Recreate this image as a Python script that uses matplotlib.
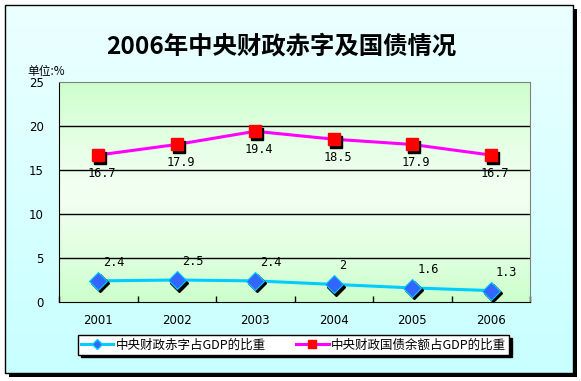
import numpy as np
import matplotlib
matplotlib.use("Agg")
import matplotlib.pyplot as plt
from matplotlib.patches import Rectangle
from matplotlib.lines import Line2D
import matplotlib.transforms as mtransforms

years = ["2001", "2002", "2003", "2004", "2005", "2006"]
deficit = [2.4, 2.5, 2.4, 2.0, 1.6, 1.3]
deficit_labels = ["2.4", "2.5", "2.4", "2", "1.6", "1.3"]
debt = [16.7, 17.9, 19.4, 18.5, 17.9, 16.7]
debt_labels = ["16.7", "17.9", "19.4", "18.5", "17.9", "16.7"]
yticks = [0, 5, 10, 15, 20, 25]
title = "2006年中央财政赤字及国债情况"
unit = "单位:%"
name_deficit = "中央财政赤字占GDP的比重"
name_debt = "中央财政国债余额占GDP的比重"

plt.rcParams['font.family'] = ['Noto Sans CJK SC', 'DejaVu Sans']

W, H = 581, 381
fig = plt.figure(figsize=(W / 100, H / 100), dpi=100)
fig.patch.set_facecolor('white')

def fx(px):
    return px / W

def fy(py):
    return 1 - py / H

# outer frame background with gradient
bg = fig.add_axes([fx(5), fy(373), fx(568), (373 - 5) / H])
bg.set_axis_off()
grad = np.linspace(0, 1, 256).reshape(-1, 1)
c_top = np.array([0xEC, 0xFF, 0xFF]) / 255
c_bot = np.array([0xC8, 0xFF, 0xFF]) / 255
img = c_top[None, None, :] * (1 - grad[:, :, None]) + c_bot[None, None, :] * grad[:, :, None]
bg.imshow(img, aspect='auto', extent=[0, 1, 0, 1])
bg.set_xlim(0, 1)
bg.set_ylim(0, 1)
# shadow of frame
fig.patches.append(Rectangle((fx(9), fy(377)), fx(568), 4 / H, transform=fig.transFigure,
                             facecolor='black', edgecolor='none', zorder=0))
fig.patches.append(Rectangle((fx(573), fy(377)), 4 / W, (377 - 9) / H, transform=fig.transFigure,
                             facecolor='black', edgecolor='none', zorder=0))
fig.patches.append(Rectangle((fx(5), fy(373)), fx(568), (373 - 5) / H, transform=fig.transFigure,
                             facecolor='none', edgecolor='black', linewidth=1, zorder=5))

# plot area
L, R, T, B = 59, 530, 82, 302
ax = fig.add_axes([fx(L), fy(B), (R - L) / W, (B - T) / H])
ax.set_xlim(0.5, 6.5)
ax.set_ylim(0, 25)

# plot background gradient (green edges, lighter center)
g = np.linspace(-1, 1, 256)
t = np.abs(g) ** 1.3
c_edge = np.array([0xCC, 0xFF, 0xCC]) / 255
c_mid = np.array([0xF2, 0xFF, 0xF2]) / 255
pimg = c_mid[None, :] * (1 - t[:, None]) + c_edge[None, :] * t[:, None]
ax.imshow(pimg[:, None, :], aspect='auto', extent=[0.5, 6.5, 0, 25], zorder=0)

for yv in yticks[1:-1]:
    ax.axhline(yv, color='black', linewidth=1, zorder=1)

x = np.arange(1, len(years) + 1)

# lines
ax.plot(x, deficit, color='#00CCFF', linewidth=2.2, zorder=3, solid_capstyle='butt')
ax.plot(x, debt, color='#FF00FF', linewidth=2.2, zorder=3, solid_capstyle='butt')

# marker shadows
sh = mtransforms.offset_copy(ax.transData, fig=fig, x=2, y=-2.5, units='dots')
ax.plot(x, deficit, linestyle='none', marker='D', markersize=9, color='black', transform=sh, zorder=4)
ax.plot(x, debt, linestyle='none', marker='s', markersize=8, color='black', transform=sh, zorder=4)
# markers
ax.plot(x, deficit, linestyle='none', marker='D', markersize=9, markerfacecolor='#3366FF',
        markeredgecolor='#00CCFF', markeredgewidth=0.8, zorder=5)
ax.plot(x, debt, linestyle='none', marker='s', markersize=8, markerfacecolor='#FF0000',
        markeredgecolor='#FF0000', zorder=5)

# data labels
for xi, v, lab in zip(x, deficit, deficit_labels):
    ax.annotate(lab, (xi, v), xytext=(5, 12), textcoords='offset pixels', ha='left', va='bottom',
                fontsize=8.6, family='DejaVu Sans Mono', zorder=6)
for xi, v, lab in zip(x, debt, debt_labels):
    ax.annotate(lab, (xi, v), xytext=(4, -12), textcoords='offset pixels', ha='center', va='top',
                fontsize=8.6, family='DejaVu Sans Mono', zorder=6)

# axes styling
ax.set_yticks(yticks)
ax.set_yticklabels([str(v) for v in yticks], fontsize=8.5, family='DejaVu Sans')
ax.tick_params(axis='y', length=0, pad=11)
ax.set_xticks(np.arange(0.5, 7.0, 1.0))
ax.set_xticklabels([])
ax.tick_params(axis='x', direction='in', length=4, width=1, color='black')
for xi, yr in zip(x, years):
    ax.text(xi, -0.085, yr, transform=ax.get_xaxis_transform(), ha='center', va='center',
            fontsize=8.5, family='DejaVu Sans')
ax.spines['left'].set_color('black')
ax.spines['bottom'].set_color('black')
ax.spines['top'].set_color('#808080')
ax.spines['right'].set_color('#808080')

# titles
fig.text(fx(281), fy(46), title, ha='center', va='center', fontsize=17.6, fontweight='bold')
fig.text(fx(27), fy(71), unit, ha='left', va='center', fontsize=8.5)

# legend
h1 = Line2D([], [], color='#00CCFF', linewidth=2.2, marker='D', markersize=5.5,
            markerfacecolor='#3366FF', markeredgecolor='#00CCFF')
h2 = Line2D([], [], color='#FF00FF', linewidth=2.2, marker='s', markersize=5.5,
            markerfacecolor='#FF0000', markeredgecolor='#FF0000')
leg = fig.legend([h1, h2], [name_deficit, name_debt], loc='center',
                 bbox_to_anchor=(fx(293.5), fy(345)), ncol=2, fontsize=9.0,
                 frameon=True, fancybox=False, shadow={'color': 'black', 'alpha': 1},
                 handlelength=2.6, handletextpad=0.2, columnspacing=2.4,
                 borderpad=0.25, edgecolor='black', framealpha=1)
leg.get_frame().set_linewidth(1)

fig.savefig('out.png', dpi=100)
